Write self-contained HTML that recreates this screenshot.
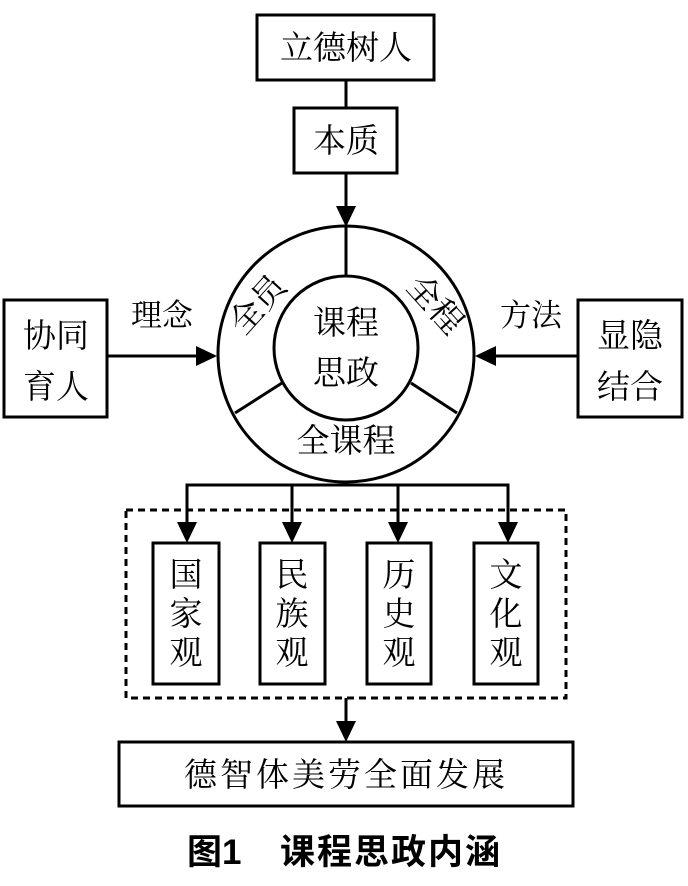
<!DOCTYPE html>
<html><head><meta charset="utf-8"><style>
html,body{margin:0;padding:0;background:#fff;}
svg text{font-family:"Noto Serif CJK SC","Liberation Serif",serif;fill:#000;}
svg text.cap{font-family:"Liberation Sans","Noto Sans CJK SC",sans-serif;font-weight:bold;}
</style></head><body>
<svg width="688" height="881" viewBox="0 0 688 881" xmlns="http://www.w3.org/2000/svg">
<g fill="none" stroke="#000" stroke-width="3">
<rect x="257" y="15" width="177" height="65"/>
<rect x="294" y="108" width="103" height="65"/>
<line x1="346" y1="80" x2="346" y2="108"/>
<line x1="346" y1="173" x2="346" y2="210"/>
<rect x="4" y="300" width="103" height="117"/>
<rect x="578" y="300" width="104" height="117"/>
<line x1="107" y1="356" x2="198" y2="356"/>
<line x1="578" y1="356" x2="494" y2="356"/>
<circle cx="346" cy="354" r="128"/>
<circle cx="346" cy="348" r="72"/>
<line x1="346" y1="226" x2="346" y2="276"/>
<line x1="282" y1="383" x2="235" y2="413"/>
<line x1="411" y1="383" x2="457" y2="413"/>
<polyline points="187,525 187,485 508,485 508,525"/>
<line x1="292" y1="485" x2="292" y2="525"/>
<line x1="398" y1="485" x2="398" y2="525"/>
<rect x="126" y="510" width="440" height="188" stroke-dasharray="7,5"/>
<rect x="153" y="543" width="66" height="141"/>
<rect x="260" y="543" width="65" height="141"/>
<rect x="367" y="543" width="64" height="141"/>
<rect x="474" y="543" width="64" height="141"/>
<line x1="346" y1="698" x2="346" y2="724"/>
<rect x="119" y="742" width="454" height="64"/>
</g>
<g fill="#000">
<polygon points="336,206 356,206 346,227"/>
<polygon points="196,346 196,366 217,356"/>
<polygon points="496,346 496,366 475,356"/>
<polygon points="177,522 197,522 187,543"/>
<polygon points="282,522 302,522 292,543"/>
<polygon points="388,522 408,522 398,543"/>
<polygon points="498,522 518,522 508,543"/>
<polygon points="336,721 356,721 346,742"/>
</g>
<g font-size="33" text-anchor="middle">
<text x="346" y="59">立德树人</text>
<text x="346" y="152">本质</text>
<text x="56" y="347">协同</text>
<text x="56" y="398">育人</text>
<text x="630" y="347">显隐</text>
<text x="630" y="398">结合</text>
<text x="162" y="326" font-size="31">理念</text>
<text x="531" y="326" font-size="31">方法</text>
<text x="346" y="334">课程</text>
<text x="346" y="384">思政</text>
<text x="346" y="452">全课程</text>
<text x="266" y="312" transform="rotate(-48 266 312)">全员</text>
<text x="427" y="312" transform="rotate(48 427 312)">全程</text>
<text x="186" y="586">国</text><text x="186" y="625">家</text><text x="186" y="664">观</text>
<text x="292" y="586">民</text><text x="292" y="625">族</text><text x="292" y="664">观</text>
<text x="399" y="586">历</text><text x="399" y="625">史</text><text x="399" y="664">观</text>
<text x="506" y="586">文</text><text x="506" y="625">化</text><text x="506" y="664">观</text>
<text x="346" y="786" letter-spacing="3">德智体美劳全面发展</text>
</g>
<text class="cap" x="187" y="864" font-size="35">图1</text>
<text class="cap" x="280" y="864" font-size="35" letter-spacing="2">课程思政内涵</text>
</svg>
</body></html>
